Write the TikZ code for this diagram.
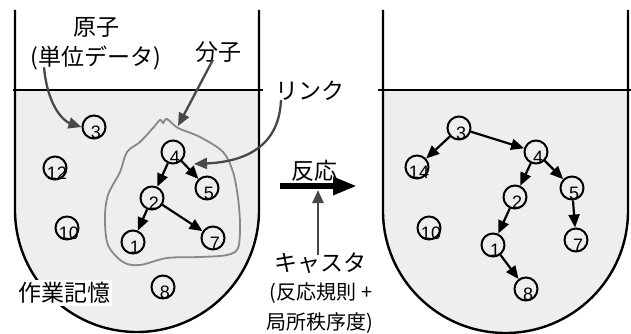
\documentclass[tikz,border=0pt]{standalone}
\usepackage{fontspec}
\setmainfont{Liberation Sans}
\newfontfamily\jp{Noto Sans CJK JP}
\usetikzlibrary{arrows.meta}
\definecolor{liquid}{HTML}{EEEEEE}
\definecolor{ptr}{HTML}{484848}
\definecolor{mol}{HTML}{888888}
\newcommand\atomnode[3]{\node[atom] (#1) at (#2) {};\node[num] (#1t) at ([shift={(2,5)}]#1.center) {#3};}
\begin{document}
\begin{tikzpicture}[x=1pt,y=-1pt,
  wall/.style={line width=2.4pt},
  atom/.style={circle,draw,line width=2pt,minimum size=23pt,inner sep=0pt},
  num/.style={inner sep=0pt,font=\fontsize{18}{18}\selectfont},
  bond/.style={line width=2.2pt,-{Triangle[length=13pt,width=11pt]}},
  lbl/.style={font=\jp\fontsize{23}{26}\selectfont,inner sep=0pt},
  slbl/.style={font=\jp\fontsize{20}{23}\selectfont,inner sep=0pt},
  pointer/.style={draw=ptr,line width=2.3pt,-{Triangle[length=13pt,width=11pt]}},
]
\useasboundingbox (0,0) rectangle (631,334);
% left beaker
\fill[liquid] (15,90) -- (15,210) .. controls (15,277.4) and (69.6,332) .. (137,332)
  .. controls (204.4,332) and (259,277.4) .. (259,210) -- (259,90) -- cycle;
\draw[wall] (15,10) -- (15,210) .. controls (15,277.4) and (69.6,332) .. (137,332)
  .. controls (204.4,332) and (259,277.4) .. (259,210) -- (259,10);
\draw[wall] (13,90) -- (263,90);
% right beaker
\fill[liquid] (383,90) -- (383,211) .. controls (383,278.4) and (438,333) .. (505.5,333)
  .. controls (573,333) and (628,278.4) .. (628,211) -- (628,90) -- cycle;
\draw[wall] (383,10) -- (383,211) .. controls (383,278.4) and (438,333) .. (505.5,333)
  .. controls (573,333) and (628,278.4) .. (628,211) -- (628,10);
\draw[wall] (378,90) -- (631,90);

% molecule boundary
\draw[mol,line width=1.8pt] plot[smooth cycle,tension=0.55] coordinates {
  (167,119) (178,128) (200,137) (223,152) (233,172) (238,198) (240,225) (238,248)
  (227,255) (200,257) (167,258) (140,265) (123,262) (108,245) (105,218) (108,195)
  (120,172) (127,152) (140,142) (153,128) (160,120) (163,123)};

% left atoms
\atomnode{L3}{94,127}{3}
\atomnode{L12}{55,168}{12}
\atomnode{L4}{173,152}{4}
\atomnode{L5}{207,188}{5}
\atomnode{L2}{152,198}{2}
\atomnode{L10}{67,228}{10}
\atomnode{L1}{133,242}{1}
\atomnode{L7}{213,238}{7}
\atomnode{L8}{163,287}{8}
\draw[bond] (L4) -- (L2);
\draw[bond] (L4) -- (L5);
\draw[bond] (L2) -- (L1);
\draw[bond] (L2) -- (L7);

% right atoms
\atomnode{R3}{459,128}{3}
\atomnode{R14}{417,167}{14}
\atomnode{R4}{536,152}{4}
\atomnode{R2}{515,197}{2}
\atomnode{R5}{572,188}{5}
\atomnode{R10}{429,228}{10}
\atomnode{R1}{493,245}{1}
\atomnode{R7}{576,240}{7}
\atomnode{R8}{526,289}{8}
\draw[bond] (R3) -- (R14);
\draw[bond] (R3) -- (R4);
\draw[bond] (R4) -- (R2);
\draw[bond] (R4) -- (R5);
\draw[bond] (R5) -- (R7);
\draw[bond] (R2) -- (R1);
\draw[bond] (R1) -- (R8);

% labels
\node[lbl] (genshi) at (96,27) {原子};
\node[lbl] (tanni) at (96,58) {(単位データ)};
\node[lbl] (bunshi) at (218,52) {分子};
\node[lbl] (link) at (310,91) {リンク};
\node[lbl,fill=white,inner sep=2pt] (sagyo) at (64,293) {作業記憶};
\node[lbl] (hanno) at (314,171) {反応};
\node[lbl] (caster) at (320,263) {キャスタ};
\node[slbl] (rule) at (321,293) {(反応規則 +};
\node[slbl] (order) at (320,323) {局所秩序度)};

% pointers
\coordinate (molpt) at (178,126);
\coordinate (linkpt) at (194,164);
\draw[pointer] ([xshift=-52pt,yshift=3pt]tanni.south) .. controls (48,110) and (66,122) .. (L3.west);
\draw[pointer] ([xshift=-5pt,yshift=3pt]bunshi.south) -- (molpt);
\draw[pointer] ([xshift=-29pt,yshift=1pt]link.south) .. controls (279,150) and (240,162) .. (linkpt);

% reaction arrow
\coordinate (ra1) at (280,186);
\coordinate (ra2) at (357,186);
\draw[line width=6pt,-{Triangle[length=24pt,width=17pt]}] (ra1) -- (ra2);
\coordinate (rapt) at (318,190);
\draw[draw=ptr,line width=2.5pt,-{Triangle[length=13pt,width=11pt]}] ([yshift=-3pt]caster.north -| rapt) -- (rapt);
\end{tikzpicture}
\end{document}
